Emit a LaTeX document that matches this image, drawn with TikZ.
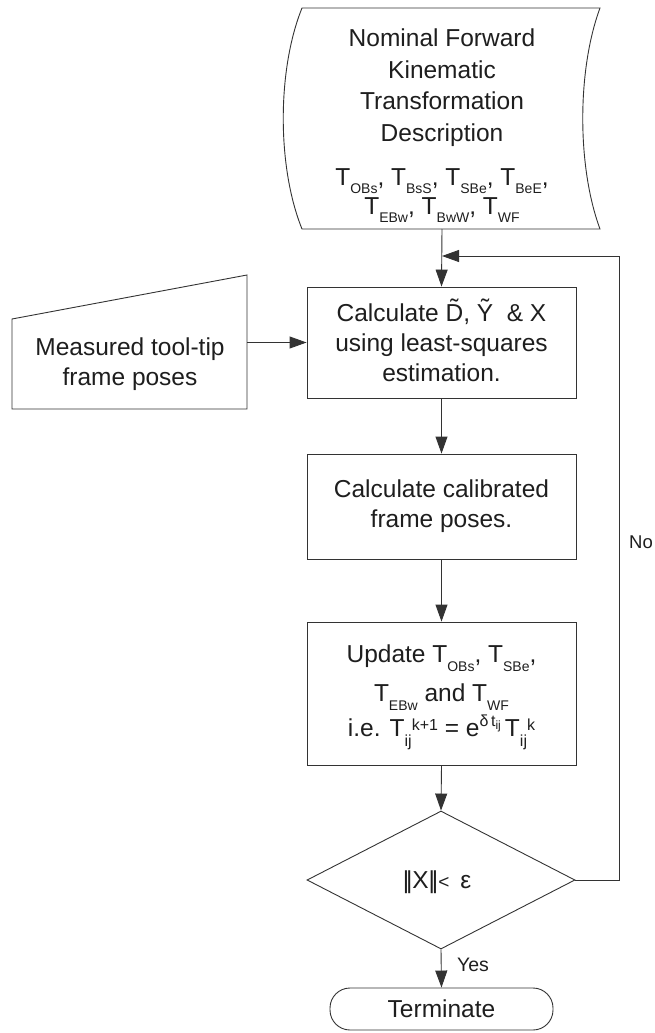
\documentclass[tikz,border=0pt]{standalone}
\usepackage{fontspec}
\setmainfont{Liberation Sans}
\usetikzlibrary{arrows.meta,shapes.geometric}
\definecolor{ln}{HTML}{333333}
\definecolor{tx}{HTML}{1E1E1E}
\newcommand\Sb[1]{\raisebox{-0.33em}{\fontsize{14}{14}\selectfont #1}}
\newcommand\Sp[1]{\raisebox{0.26em}{\fontsize{16}{16}\selectfont #1}}
\newcommand\Tld[1]{{\ooalign{#1\cr\hidewidth\raisebox{0.2em}{˜}\hidewidth\cr}}}
\begin{document}
\begin{tikzpicture}[x=1pt,y=-1pt,
  every node/.style={text=tx,font=\fontsize{24.5}{30}\selectfont,inner sep=0pt},
  conn/.style={draw=ln,line width=0.9pt},
  arr/.style={conn,-{Triangle[length=17pt,width=12pt]}},
  procbox/.style={draw=ln,line width=0.9pt,rectangle,minimum width=269pt,align=center},
  shp/.style={draw=ln,line width=0.9pt}]
\useasboundingbox (0,0) rectangle (655,1033);
% top stored-data shape
\draw[shp] (302,8) -- (600,8) .. controls (577,70) and (577,167) .. (600,229)
  -- (302,229) .. controls (277,167) and (277,70) .. (302,8) -- cycle;
\node[align=center,anchor=north,font=\fontsize{24.5}{31.5}\selectfont] (nom) at (442,29) {Nominal Forward\\Kinematic\\Transformation\\Description\\[12.5pt]
T\Sb{OBs}, T\Sb{BsS}, T\Sb{SBe}, T\Sb{BeE},\\[-2.5pt]
T\Sb{EBw}, T\Sb{BwW}, T\Sb{WF}};
\coordinate (nomb) at (442,229);
% measured shape
\draw[shp] (12,319) -- (247,275) -- (247,409) -- (12,409) -- cycle;
\node[align=center] (meas) at (130,364) {Measured tool-tip\\frame poses};
\coordinate (measr) at (247,342.5);
% boxes
\node[procbox,minimum height=111pt] (b1) at (441.5,342.5) {Calculate \Tld{D}, \Tld{Y}\ \ \& X\\using least-squares\\estimation.};
\node[procbox,minimum height=105pt] (b2) at (441.5,506.5) {Calculate calibrated\\frame poses.};
\node[procbox,minimum height=143pt] (b3) at (441.5,693.5) {\rule{0pt}{26pt}Update T\Sb{OBs}, T\Sb{SBe},\\[9pt]
T\Sb{EBw} and T\Sb{WF}\\[5pt]
i.e. T\raisebox{-0.4em}{\fontsize{16}{16}\selectfont ij}\Sp{k+1} = e\raisebox{0.42em}{\fontsize{16}{16}\selectfont δ\,t\raisebox{-0.2em}{\fontsize{12}{12}\selectfont ij}}\,T\raisebox{-0.4em}{\fontsize{16}{16}\selectfont ij}\Sp{k}};
\node[diamond,draw=ln,line width=0.9pt,minimum width=268pt,minimum height=138pt] (dec) at (441,880) {};
\node (dectx) at (437,882) {|\kern-0.13em|X|\kern-0.13em|{\fontsize{19}{19}\selectfont<}\ \,ε};
\node[draw=ln,line width=0.9pt,rounded corners=20pt,minimum width=223pt,minimum height=42pt] (term) at (441.5,1009) {Terminate};
% connectors
\coordinate (join) at (442,256);
\coordinate (fbr) at (619,880);
\coordinate (fbt) at (619,256);
\draw[arr] (nomb) -- (b1.north);
\draw[arr] (measr) -- (b1.west);
\draw[arr] (b1.south) -- (b2.north);
\draw[arr] (b2.south) -- (b3.north);
\draw[arr] (b3.south) -- (dec.north);
\draw[arr] (dec.south) -- (term.north);
\draw[arr] (dec.east) -- (fbr) -- (fbt) -- (join);
\node[font=\fontsize{18.5}{20}\selectfont] (no) at (641,542) {No};
\node[font=\fontsize{19.5}{20}\selectfont] (yes) at (473,965) {Yes};
\end{tikzpicture}
\end{document}
